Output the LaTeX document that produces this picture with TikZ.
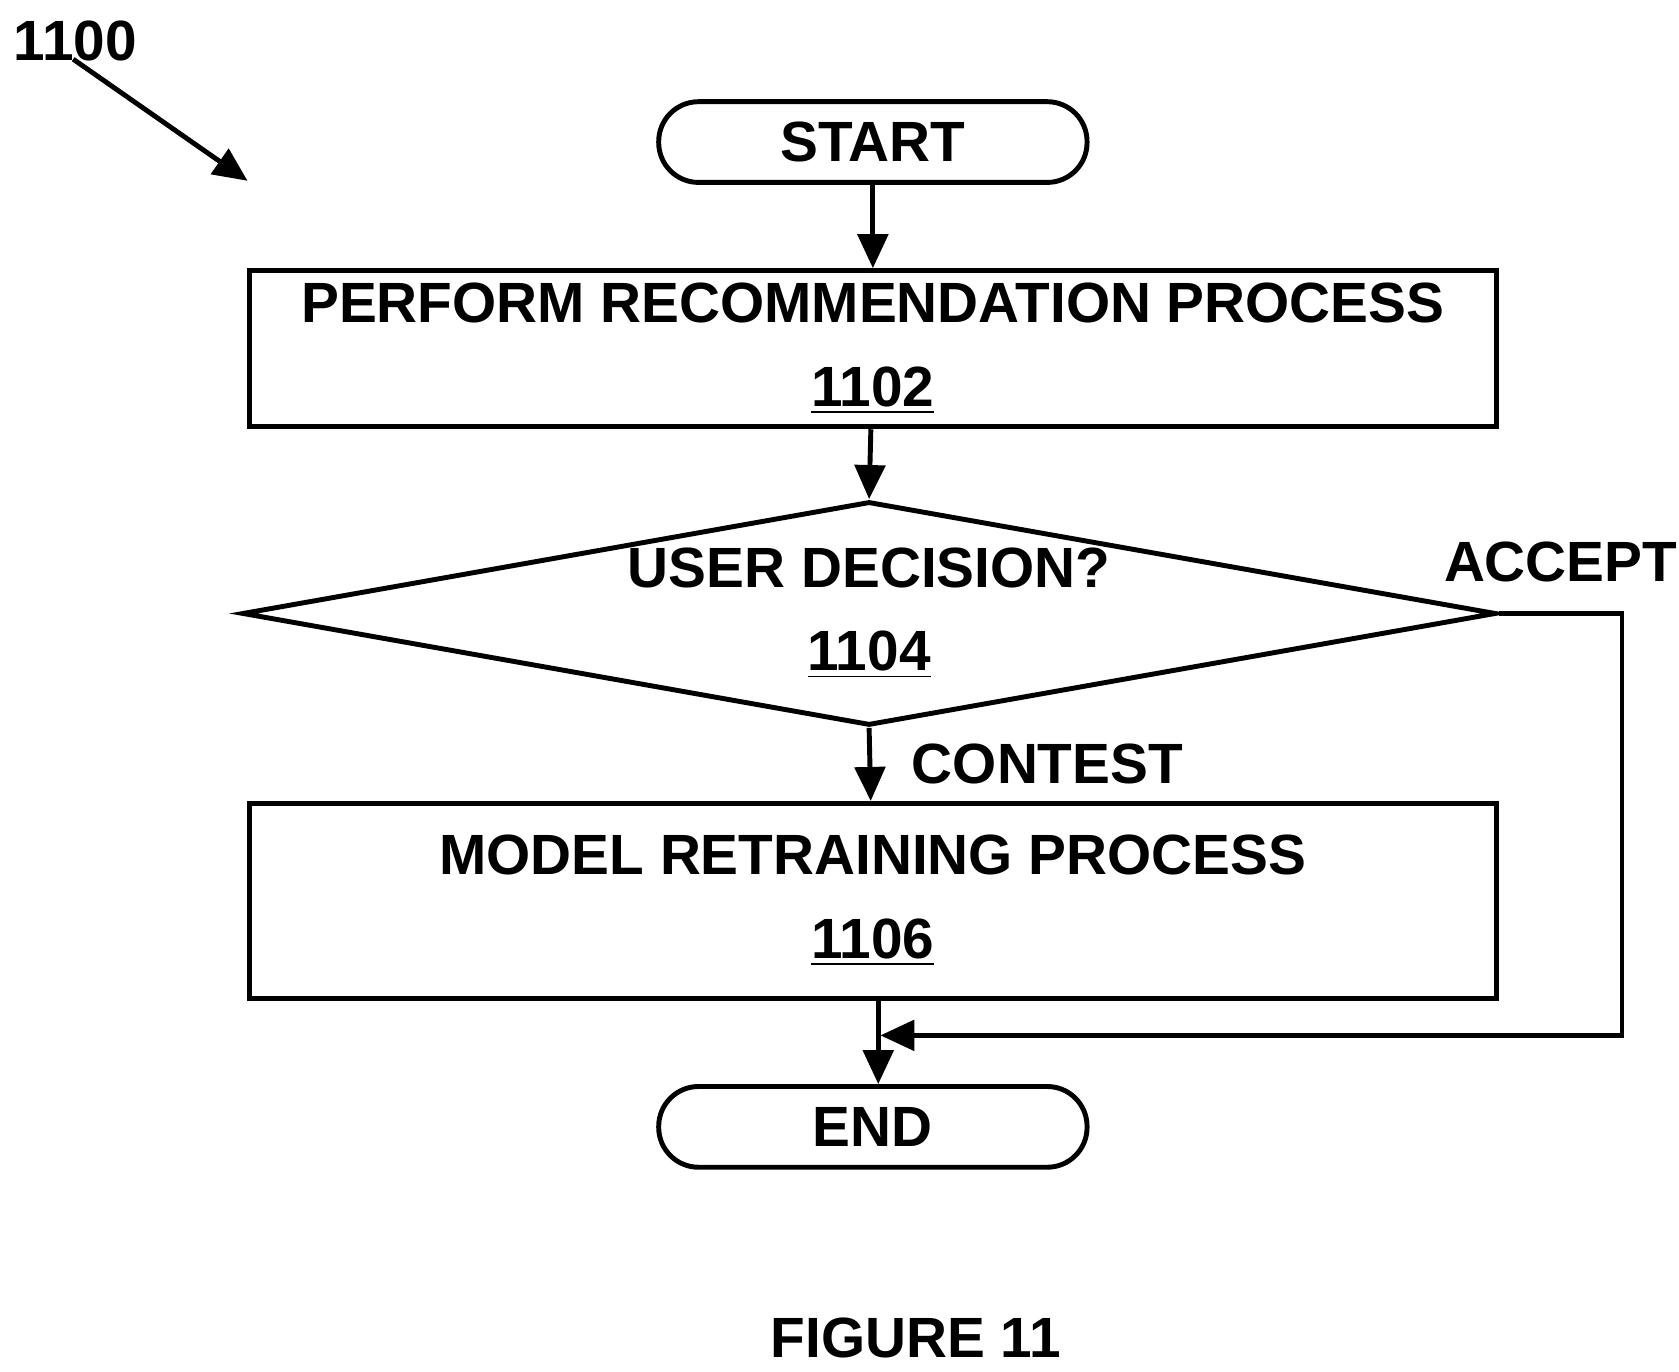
\documentclass[tikz,border=0pt]{standalone}
\usepackage{fontspec}
\setmainfont{Liberation Sans}
\usetikzlibrary{shapes.geometric, arrows.meta, positioning}
\tikzset{
    flow/.style={line width=1.3pt, -{Triangle[length=9pt, width=8pt]}},
    stepbox/.style={draw, line width=1.3pt, minimum width=11.58cm, align=center, font=\bfseries\fontsize{15}{22}\selectfont},
    term/.style={draw, line width=1.3pt, rounded corners=0.37cm, minimum width=3.98cm, minimum height=0.75cm, font=\bfseries\fontsize{15}{18}\selectfont},
    lbl/.style={font=\bfseries\fontsize{15}{18}\selectfont}
}
\begin{document}
\begin{tikzpicture}
    \useasboundingbox (0,0) rectangle (15.6,-12.74);

    % Figure number
    \node[lbl] (fignum) at (0.70,-0.38) {1100};
    \coordinate (figtip) at (2.30,-1.68);
    \draw[flow] (0.68,-0.55) -- (figtip);

    % Nodes
    \node[term] (start) at (8.11,-1.32) {START};
    \node[stepbox, minimum height=1.38cm] (recommend) at (8.11,-3.24) {PERFORM RECOMMENDATION PROCESS\\\underline{1102}};
    \node[diamond, draw, line width=1.3pt, aspect=5.6, minimum width=11.65cm, minimum height=2.08cm, inner sep=0pt, align=center, font=\bfseries\fontsize{15}{22}\selectfont] (decide) at (8.075,-5.70) {USER DECISION?\\\underline{1104}};
    \node[stepbox, minimum height=1.81cm] (retrain) at (8.11,-8.37) {MODEL RETRAINING PROCESS\\\underline{1106}};
    \node[term] (finish) at (8.11,-10.47) {END};

    % Connectors
    \draw[flow] (start) -- (recommend);
    \draw[flow] (recommend) -- (decide.north);
    \draw[flow] (decide.south) -- (retrain) node[lbl, pos=0.5, right=0.25cm] {CONTEST};
    \coordinate (merge) at (8.16,-9.62);
    \draw[flow] (retrain.south -| merge) -- (finish.north -| merge);
    \draw[flow] (decide.east) -- (15.07,-5.70) -- (15.07,-9.62) -- ([xshift=0.02cm]merge);
    \node[lbl] (accept) at (14.50,-5.22) {ACCEPT};

    % Caption
    \node[lbl] (caption) at (8.51,-12.43) {FIGURE 11};
\end{tikzpicture}
\end{document}
